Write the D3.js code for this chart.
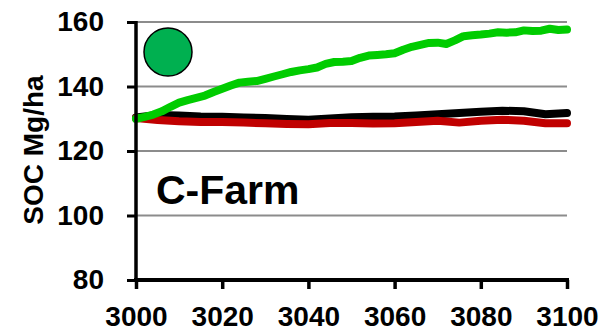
<!DOCTYPE html>
<html>
<head>
<meta charset="utf-8">
<script src="https://cdn.jsdelivr.net/npm/d3@7"></script>
<style>
  body { margin: 0; background: #fff; }
  svg { display: block; font-family: "Liberation Sans", Arial, sans-serif; font-weight: bold; }
</style>
</head>
<body>
<div id="cont"></div>
<script>
// years and SOC values (Mg/ha)
var yearsFine = [3000, 3002, 3004, 3006, 3008, 3010, 3012, 3014, 3016, 3018,
                 3020, 3022, 3024, 3026, 3028, 3030, 3032, 3034, 3036, 3038,
                 3040, 3042, 3044, 3046, 3048, 3050, 3052, 3054, 3056, 3058,
                 3060, 3062, 3064, 3066, 3068, 3070, 3072, 3074, 3076, 3078,
                 3080, 3082, 3084, 3086, 3088, 3090, 3092, 3094, 3096, 3098, 3100];
var greenSoc = [130.0, 130.6, 131.3, 132.3, 133.7, 135.0, 135.8, 136.5, 137.2, 138.3,
                139.3, 140.3, 141.2, 141.5, 141.7, 142.4, 143.1, 143.8, 144.5, 145.0,
                145.4, 145.9, 147.0, 147.6, 147.7, 147.9, 148.9, 149.6, 149.8, 150.0,
                150.3, 151.4, 152.3, 152.9, 153.5, 153.6, 153.2, 154.3, 155.6, 155.9,
                156.1, 156.4, 156.8, 156.7, 156.8, 157.4, 157.2, 157.3, 157.9, 157.5, 157.7];

var yearsCoarse = [3000, 3005, 3010, 3015, 3020, 3025, 3030, 3035, 3040, 3045, 3050,
                   3055, 3060, 3065, 3070, 3075, 3080, 3085, 3090, 3095, 3100];
var blackSoc = [130.4, 131.2, 131.0, 130.7, 130.6, 130.4, 130.2, 129.9, 129.7, 130.1, 130.5,
                130.6, 130.7, 131.0, 131.4, 131.8, 132.2, 132.5, 132.3, 131.4, 131.8];
var redSoc = [130.2, 129.6, 129.2, 129.0, 129.0, 128.8, 128.6, 128.4, 128.3, 128.7, 128.7,
              128.5, 128.6, 129.0, 129.4, 128.8, 129.4, 129.7, 129.4, 128.6, 128.6];

var xTicks = [3000, 3020, 3040, 3060, 3080, 3100];
var yTicks = [80, 100, 120, 140, 160];

var width = 607, height = 331;

var svg = d3.select("#cont")
  .append("svg")
  .attr("width", width)
  .attr("height", height);

var x = d3.scaleLinear().domain([3000, 3100]).range([136, 567]);
var y = d3.scaleLinear().domain([80, 160]).range([280, 22]);

// gridlines
svg.selectAll("line.grid")
  .data(yTicks.slice(1))
  .enter()
  .append("line")
  .attr("class", "grid")
  .attr("x1", x(3000))
  .attr("x2", x(3100))
  .attr("y1", function(d) { return y(d); })
  .attr("y2", function(d) { return y(d); })
  .style("stroke", "#8c8c8c")
  .style("stroke-width", 2);

// lines
var line = function(years) {
  return d3.line()
    .x(function(d, i) { return x(years[i]); })
    .y(function(d) { return y(d); });
};

var series = [
  { vals: blackSoc, years: yearsCoarse, color: "#000000" },
  { vals: redSoc, years: yearsCoarse, color: "#c00000" },
  { vals: greenSoc, years: yearsFine, color: "#00cc00" }
];

series.forEach(function(s) {
  svg.append("path")
    .datum(s.vals)
    .attr("d", line(s.years))
    .style("fill", "none")
    .style("stroke", s.color)
    .style("stroke-width", 8)
    .style("stroke-linejoin", "round")
    .style("stroke-linecap", "round");
});

// y axis
var yAxis = svg.append("g")
  .attr("transform", "translate(" + x(3000) + ",0)")
  .call(d3.axisLeft(y).tickValues(yTicks).tickSize(9).tickPadding(23));
yAxis.select(".domain").style("stroke-width", 3.5).attr("d", "M0," + (y(160) - 1) + "V" + (y(80) + 2));
yAxis.selectAll(".tick line").style("stroke-width", 3);
yAxis.selectAll("text")
  .style("font-size", "28px")
  .style("font-family", "'Liberation Sans', Arial, sans-serif")
  .style("font-weight", "bold")
  .style("fill", "#000");

// x axis
var xAxis = svg.append("g")
  .attr("transform", "translate(0," + y(80) + ")")
  .call(d3.axisBottom(x).tickValues(xTicks).tickSize(9).tickPadding(17).tickFormat(d3.format("d")));
xAxis.select(".domain").style("stroke-width", 4).attr("d", "M" + (x(3000) - 2) + ",0H" + (x(3100) + 2));
xAxis.selectAll(".tick line").style("stroke-width", 3.5);
xAxis.selectAll("text")
  .style("font-size", "28px")
  .style("font-family", "'Liberation Sans', Arial, sans-serif")
  .style("font-weight", "bold")
  .style("fill", "#000");

// axis title
svg.append("text")
  .attr("transform", "translate(43,150) rotate(-90)")
  .attr("text-anchor", "middle")
  .style("font-size", "28px")
  .text("SOC Mg/ha");

// panel label and marker
svg.append("text")
  .attr("x", 156)
  .attr("y", 204)
  .style("font-size", "41px")
  .text("C-Farm");

svg.append("circle")
  .attr("cx", 168)
  .attr("cy", 52)
  .attr("r", 24)
  .style("fill", "#00b050")
  .style("stroke", "#000")
  .style("stroke-width", 1.5);
</script>
</body>
</html>
